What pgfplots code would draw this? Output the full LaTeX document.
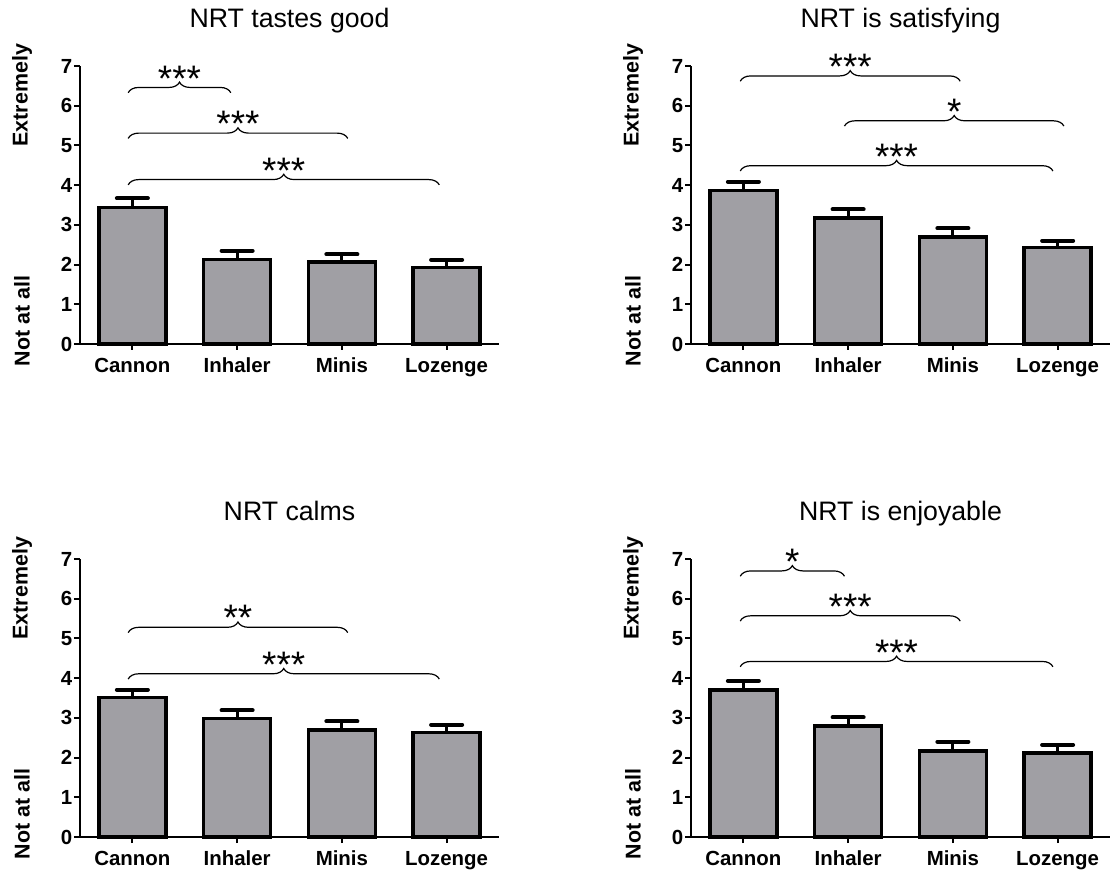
\documentclass[border=0pt]{standalone}
\usepackage{fontspec}
\setmainfont{Liberation Sans}
\usepackage{pgfplots}
\pgfplotsset{compat=1.18}
\usepackage{pgfplotstable}
\usetikzlibrary{decorations.pathreplacing}
\definecolor{barg}{RGB}{160,159,164}

\pgfplotstableread{
x y e
0 3.44 0.23
1 2.13 0.22
2 2.06 0.20
3 1.92 0.20
}\tl
\pgfplotstableread{
x y e
0 3.86 0.23
1 3.17 0.22
2 2.69 0.22
3 2.43 0.17
}\tr
\pgfplotstableread{
x y e
0 3.51 0.20
1 2.98 0.21
2 2.69 0.22
3 2.63 0.20
}\bl
\pgfplotstableread{
x y e
0 3.70 0.23
1 2.79 0.22
2 2.17 0.23
3 2.12 0.20
}\br

\pgfplotsset{
 nrt/.style={
  scale only axis, width=419bp, height=278bp, anchor=south west,
  axis lines=left, axis line style={-, line width=2bp, black},
  ymin=0, ymax=7, xmin=-0.5, xmax=3.5,
  ytick={0,...,7}, xtick={0,1,2,3},
  xticklabels={Cannon,Inhaler,Minis,Lozenge},
  tick align=outside, major tick length=6bp,
  tick style={line width=2bp, black},
  ticklabel style={font=\fontsize{20.5}{20.5}\selectfont\bfseries},
  yticklabel style={inner sep=1.5bp},
  xticklabel style={anchor=north, text height=15bp, text depth=4bp, inner sep=0pt, yshift=-7.5bp},
  /pgf/number format/assume math mode=true,
  clip=false,
  title style={font=\fontsize{26.8}{26.8}\selectfont, at={(0.5,1)}, anchor=base, yshift=33bp},
  ybar, bar width=67bp,
 },
 bars/.style={fill=barg, draw=black, line width=3.5bp,
  error bars/.cd, y dir=plus, y explicit,
  error bar style={line width=3bp, black},
  error mark=|,
  error mark options={line width=4bp, mark size=15.5bp, line cap=round, black}},
}
\newcommand{\sig}[5]{%
 \draw[decorate, decoration={brace, amplitude=10.6bp}, line width=1.2bp, yshift=-5.3bp] (axis cs:#1,#3) -- (axis cs:#2,#3);
 \node[font=\fontsize{37}{37}\selectfont, anchor=base, yshift=-3.6bp, inner sep=0pt] at (axis cs:#4,#3) {#5};
}
\newcommand{\ylabs}{%
 \node[rotate=90, font=\fontsize{21.5}{21.5}\selectfont\bfseries] at ([xshift=-58bp]axis description cs:0,0.895) {Extremely};
 \node[rotate=90, font=\fontsize{21.5}{21.5}\selectfont\bfseries] at ([xshift=-58bp]axis description cs:0,0.083) {Not at all};
}

\begin{document}
\begin{tikzpicture}
\useasboundingbox (0,0) rectangle (1112bp,870bp);
\begin{axis}[nrt, at={(80bp,526bp)}, title={NRT tastes good}]
\addplot[bars] table[x=x, y=y, y error=e] {\tl};
\sig{-0.04}{0.94}{6.46}{0.45}{***}
\sig{-0.04}{2.056}{5.31}{1.008}{***}
\sig{-0.04}{2.93}{4.14}{1.445}{***}
\ylabs
\end{axis}
\begin{axis}[nrt, at={(691bp,526bp)}, title={NRT is satisfying}]
\addplot[bars] table[x=x, y=y, y error=e] {\tr};
\sig{-0.03}{2.07}{6.75}{1.02}{***}
\sig{0.965}{3.06}{5.62}{2.0125}{*}
\sig{-0.03}{2.955}{4.49}{1.4625}{***}
\ylabs
\end{axis}
\begin{axis}[nrt, at={(80bp,33bp)}, title={NRT calms}]
\addplot[bars] table[x=x, y=y, y error=e] {\bl};
\sig{-0.04}{2.056}{5.28}{1.008}{**}
\sig{-0.04}{2.93}{4.11}{1.445}{***}
\ylabs
\end{axis}
\begin{axis}[nrt, at={(691bp,33bp)}, title={NRT is enjoyable}]
\addplot[bars] table[x=x, y=y, y error=e] {\br};
\sig{-0.03}{0.965}{6.70}{0.4675}{*}
\sig{-0.03}{2.07}{5.57}{1.02}{***}
\sig{-0.03}{2.955}{4.42}{1.4625}{***}
\ylabs
\end{axis}
\end{tikzpicture}
\end{document}
